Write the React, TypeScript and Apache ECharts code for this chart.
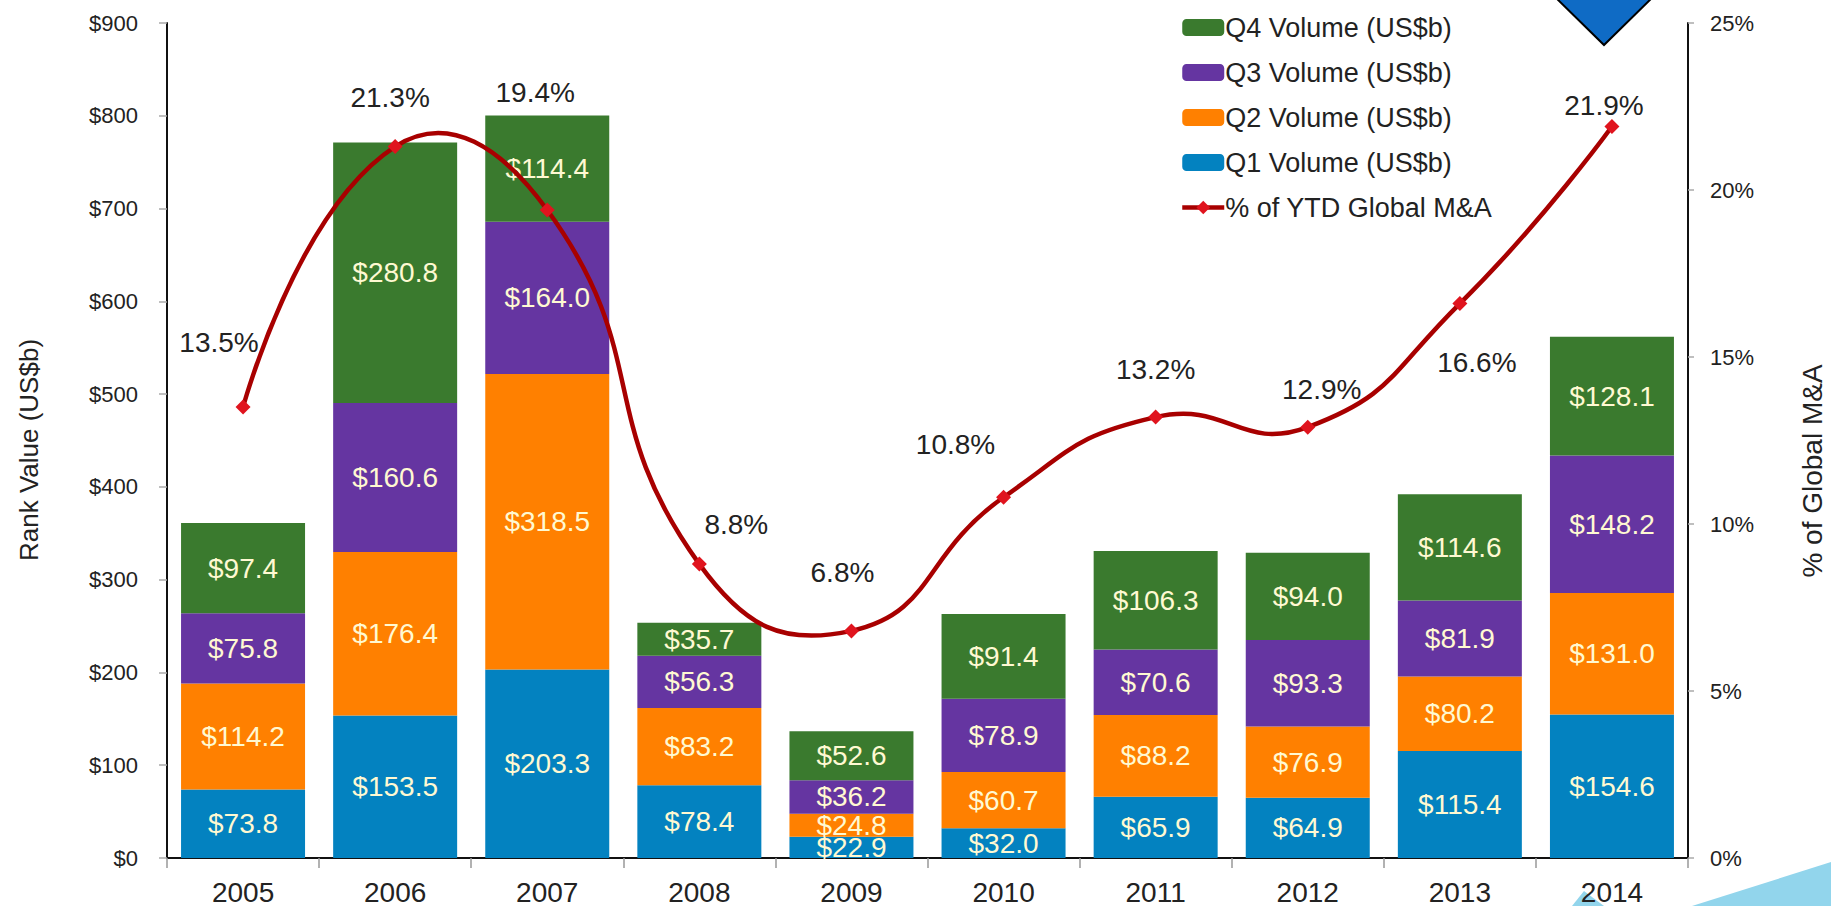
import React, { useEffect, useRef } from "react";
import * as echarts from "echarts";

const years = ["2005", "2006", "2007", "2008", "2009", "2010", "2011", "2012", "2013", "2014"];
const q1Volume = [73.8, 153.5, 203.3, 78.4, 22.9, 32.0, 65.9, 64.9, 115.4, 154.6];
const q2Volume = [114.2, 176.4, 318.5, 83.2, 24.8, 60.7, 88.2, 76.9, 80.2, 131.0];
const q3Volume = [75.8, 160.6, 164.0, 56.3, 36.2, 78.9, 70.6, 93.3, 81.9, 148.2];
const q4Volume = [97.4, 280.8, 114.4, 35.7, 52.6, 91.4, 106.3, 94.0, 114.6, 128.1];
const pctGlobal = [13.5, 21.3, 19.4, 8.8, 6.8, 10.8, 13.2, 12.9, 16.6, 21.9];

const leftAxisMax = 900;
const leftAxisStep = 100;
const rightAxisMax = 25;
const rightAxisStep = 5;

// label placement (layout only)
const pctLabelOffsets = [
  [-24, -65], [-5, -49], [-12, -118], [37, -40], [-9, -58],
  [-48, -53], [0, -48], [14, -38], [17, 59], [-8, -21],
];

const FONT = "'Liberation Sans', Arial, sans-serif";
const TEXT = "#222";
const CREAM = "#FFF9D2";
const LINE_COLOR = "#A80000";
const MARKER_COLOR = "#E0141E";

const seriesDefs = [
  { name: "Q1 Volume (US$b)", data: q1Volume, color: "#0382C0" },
  { name: "Q2 Volume (US$b)", data: q2Volume, color: "#FF8000" },
  { name: "Q3 Volume (US$b)", data: q3Volume, color: "#6535A1" },
  { name: "Q4 Volume (US$b)", data: q4Volume, color: "#3A7A2E" },
];
const lineName = "% of YTD Global M&A";

export default function App() {
  const ref = useRef<HTMLDivElement>(null);
  useEffect(() => {
    const chart = echarts.init(ref.current!, null, { renderer: "svg" });
    const option: any = {
      animation: false,
      backgroundColor: "#fff",
      textStyle: { fontFamily: FONT },
      grid: { left: 167, right: 143, top: 23, bottom: 48 },
      legend: {
        orient: "vertical",
        left: 1180,
        top: 14,
        padding: 0,
        itemWidth: 42,
        itemHeight: 17,
        itemGap: 18,
        textStyle: { fontSize: 27, lineHeight: 26, color: TEXT, fontFamily: FONT, padding: [0, 0, 0, -4] },
        data: [
          "Q4 Volume (US$b)",
          "Q3 Volume (US$b)",
          "Q2 Volume (US$b)",
          "Q1 Volume (US$b)",
          {
            name: lineName,
            lineStyle: { color: LINE_COLOR, width: 4.5, opacity: 1 },
            itemStyle: { color: MARKER_COLOR, opacity: 1 },
          },
        ],
      },
      xAxis: {
        type: "category",
        data: years,
        axisLine: { show: true, lineStyle: { color: "#111", width: 2 } },
        axisTick: { show: true, length: 10, lineStyle: { color: "#999", width: 1.5 } },
        axisLabel: { fontSize: 28, color: TEXT, margin: 20, fontFamily: FONT },
      },
      yAxis: [
        {
          type: "value",
          min: 0,
          max: leftAxisMax,
          interval: leftAxisStep,
          splitLine: { show: false },
          axisLine: { show: true, lineStyle: { color: "#111", width: 2 } },
          axisTick: { show: true, length: 8, lineStyle: { color: "#aaa", width: 1.5 } },
          axisLabel: { fontSize: 22, color: TEXT, margin: 29, fontFamily: FONT, formatter: (v: number) => "$" + v },
        },
        {
          type: "value",
          min: 0,
          max: rightAxisMax,
          interval: rightAxisStep,
          position: "right",
          splitLine: { show: false },
          axisLine: { show: true, lineStyle: { color: "#111", width: 2 } },
          axisTick: { show: true, length: 6, lineStyle: { color: "#aaa", width: 1.5 } },
          axisLabel: { fontSize: 22, color: TEXT, margin: 22, fontFamily: FONT, formatter: (v: number) => v + "%" },
        },
      ],
      series: [
        ...seriesDefs.map((s) => ({
          type: "bar",
          name: s.name,
          stack: "volume",
          barWidth: 124,
          data: s.data,
          itemStyle: { color: s.color },
          label: {
            show: true,
            position: "inside",
            fontSize: 28,
            color: CREAM,
            fontFamily: FONT,
            formatter: (p: any) => "$" + Number(p.value).toFixed(1),
          },
        })),
        {
          // smooth (Catmull-Rom like) curve through the percentage points
          type: "custom",
          yAxisIndex: 1,
          z: 4,
          silent: true,
          data: pctGlobal.map((v, i) => [i, v]),
          encode: { x: 0, y: 1 },
          renderItem: (params: any, api: any) => {
            if (params.dataIndex !== 0) return null;
            const pts = pctGlobal.map((v, i) => api.coord([i, v]));
            return {
              type: "polyline",
              shape: { points: pts, smooth: 0.5 },
              style: { stroke: LINE_COLOR, lineWidth: 4.5, fill: null, lineJoin: "round", lineCap: "round" },
            };
          },
        },
        {
          type: "line",
          name: lineName,
          yAxisIndex: 1,
          z: 5,
          symbol: "diamond",
          symbolSize: 15,
          lineStyle: { color: LINE_COLOR, width: 4.5, opacity: 0 },
          itemStyle: { color: MARKER_COLOR },
          data: pctGlobal.map((v, i) => ({ value: v, label: { offset: pctLabelOffsets[i] } })),
          label: {
            show: true,
            position: "inside",
            fontSize: 28,
            color: TEXT,
            fontFamily: FONT,
            formatter: (p: any) => Number(p.value).toFixed(1) + "%",
          },
        },
      ],
      graphic: [
        {
          type: "polygon",
          z: -1,
          shape: { points: [[1572, 906], [1584, 891], [1604, 906]] },
          style: { fill: "#92D5EC" },
        },
        {
          type: "polygon",
          z: -1,
          shape: { points: [[1692, 906], [1831, 862], [1831, 906]] },
          style: { fill: "#92D5EC" },
        },
        {
          type: "polygon",
          shape: { points: [[1550, -8], [1658, -8], [1604, 45]] },
          style: { fill: "#0F6BC5", stroke: "#000", lineWidth: 2 },
        },
        {
          type: "text",
          x: 29,
          y: 450,
          rotation: Math.PI / 2,
          style: {
            text: "Rank Value (US$b)",
            fontSize: 26,
            fontFamily: FONT,
            fill: TEXT,
            align: "center",
            verticalAlign: "middle",
          },
        },
        {
          type: "text",
          x: 1812,
          y: 471,
          rotation: Math.PI / 2,
          style: {
            text: "% of Global M&A",
            fontSize: 28,
            fontFamily: FONT,
            fill: TEXT,
            align: "center",
            verticalAlign: "middle",
          },
        },
      ],
    };
    chart.setOption(option);
    return () => chart.dispose();
  }, []);
  return <div ref={ref} style={{ position: "fixed", left: 0, top: 0, width: 1831, height: 906 }} />;
}
